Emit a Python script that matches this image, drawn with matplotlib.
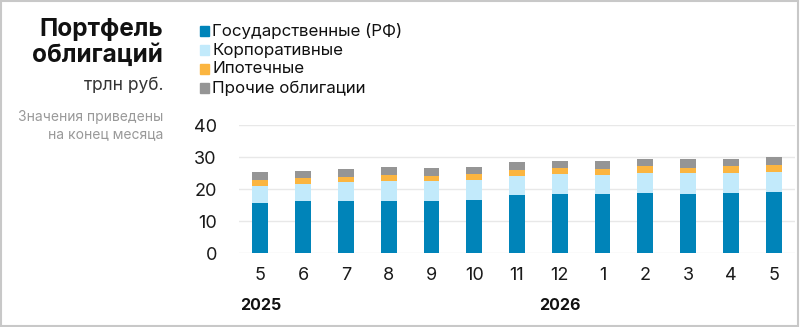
import matplotlib
matplotlib.use('agg')
import matplotlib.pyplot as plt
import numpy as np

plt.rcParams['font.family'] = ['Inter', 'DejaVu Sans']

months = ['5', '6', '7', '8', '9', '10', '11', '12', '1', '2', '3', '4', '5']
years = ['2025', '2026']
year_pos = [0, 7]

gov = [15.8, 16.25, 16.4, 16.4, 16.35, 16.75, 18.2, 18.5, 18.4, 18.95, 18.6, 18.95, 19.15]
corp = [5.2, 5.5, 5.8, 6.0, 6.05, 6.05, 6.05, 6.1, 6.1, 6.15, 6.3, 6.15, 6.35]
mortgage = [1.8, 1.65, 1.7, 1.9, 1.8, 1.8, 1.85, 2.1, 1.8, 2.0, 1.85, 2.0, 2.1]
other = [2.5, 2.4, 2.4, 2.5, 2.4, 2.4, 2.3, 2.15, 2.45, 2.15, 2.5, 2.35, 2.4]

labels = ['Государственные (РФ)', 'Корпоративные', 'Ипотечные', 'Прочие облигации']
colors = ['#0084b9', '#c2eafb', '#fbb540', '#959595']

fig = plt.figure(figsize=(8, 3.27), dpi=100)
ax = fig.add_axes([0.29875, 0.2254, 0.695, 0.3923])

x = np.arange(len(months))
bottom = np.zeros(len(months))
for vals, c in zip([gov, corp, mortgage, other], colors):
    ax.bar(x, vals, 0.37, bottom=bottom, color=c, zorder=3)
    bottom += np.array(vals)

ax.set_xlim(-0.5, 12.5)
ax.set_ylim(0, 40)
ax.set_yticks([0, 10, 20, 30, 40])
ax.grid(axis='y', color='#e8e8e8', linewidth=1, zorder=0)
ax.set_axisbelow(True)
for s in ax.spines.values():
    s.set_visible(False)
ax.tick_params(length=0, labelsize=13, colors='#1a1a1a')
ax.tick_params(axis='y', pad=16)
ax.tick_params(axis='x', pad=10)
ax.set_xticks(x)
ax.set_xticklabels(months)
for p, yr in zip(year_pos, years):
    ax.text(p, -0.405, yr, transform=ax.get_xaxis_transform(), ha='center', va='center',
            fontsize=11.5, fontweight='bold', color='#111111')

# заголовок слева
fig.text(0.204, 0.945, 'Портфель\nоблигаций', ha='right', va='top', fontsize=17.5,
         fontweight='bold', color='#111111', linespacing=1.12)
fig.text(0.204, 0.74, 'трлн руб.', ha='right', va='center', fontsize=12.5, color='#333333')
fig.text(0.204, 0.615, 'Значения приведены\nна конец месяца', ha='right', va='center',
         fontsize=10, color='#999999', linespacing=1.3)

# легенда
leg_y = [0.905, 0.847, 0.789, 0.731]
for yy, lbl, c in zip(leg_y, labels, colors):
    fig.patches.append(plt.Rectangle((0.2505, yy - 0.0145), 0.0105, 0.029, color=c,
                                     transform=fig.transFigure, figure=fig))
    fig.text(0.265, yy, lbl, va='center', fontsize=12.2, color='#111111')

# рамка
fig.patches.append(plt.Rectangle((0.001, 0.002), 0.997, 0.995, fill=False, edgecolor='#c8c8c8',
                                 linewidth=1.5, transform=fig.transFigure, figure=fig))

fig.savefig('out.png', dpi=100)
